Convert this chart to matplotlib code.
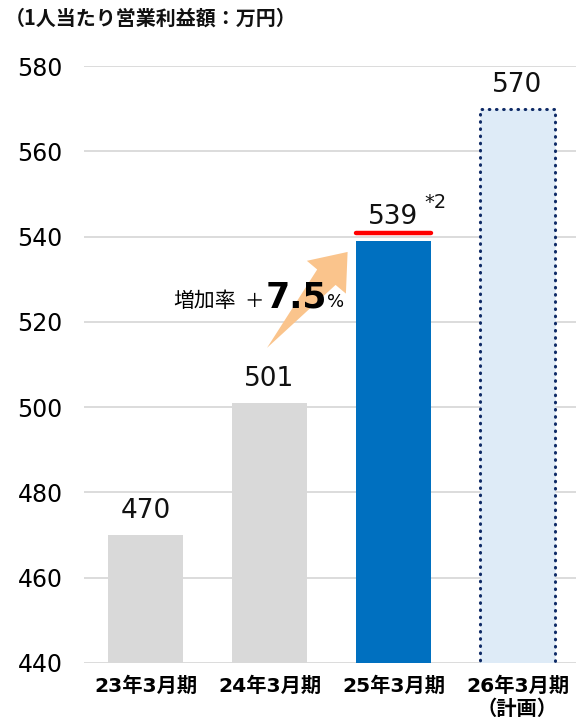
import numpy as np
import matplotlib.pyplot as plt
import matplotlib.transforms as mtransforms
from matplotlib.patches import Polygon

plt.rcParams['font.family'] = ['DejaVu Sans', 'Noto Sans CJK JP']
cjk = ['Noto Sans CJK JP', 'DejaVu Sans']

periods = ['23年3月期', '24年3月期', '25年3月期', '26年3月期\n（計画）']
profitPerHead = [470, 501, 539, 570]   # 万円
barColors = ['#D9D9D9', '#D9D9D9', '#0070C0', '#DEEBF7']
yTicks = [440, 460, 480, 500, 520, 540, 560, 580]

fig = plt.figure(figsize=(5.76, 7.28), dpi=100)
ax = fig.add_axes([0.145, 0.0893, 0.861, 0.82])
ax.set_ylim(440, 580)
ax.set_xlim(-0.5, 3.5)

xs = range(len(periods))
bars = ax.bar(xs, profitPerHead, width=0.6, color=barColors, zorder=2)

# plan year: dotted outline
bars[3].set_edgecolor('#0E2A66')
bars[3].set_linestyle((0, (0.2, 2.15)))
bars[3].set_linewidth(2.2)
bars[3].set_capstyle('round')

for x, v in zip(xs, profitPerHead):
    ax.annotate(str(v), (x, v), xytext=(0, 12), textcoords='offset points',
                ha='center', va='baseline', fontsize=19, color='#111111', zorder=5)

# red underline under the current year value
lineTrans = mtransforms.offset_copy(ax.transData, fig=fig, y=5.5, units='points')
ax.plot([1.7, 2.3], [profitPerHead[2]] * 2, color='#FF0000', lw=3.2,
        solid_capstyle='round', transform=lineTrans, zorder=4)
ax.annotate('*2', (2, profitPerHead[2]), xytext=(22, 24), textcoords='offset points',
            ha='left', va='baseline', fontsize=14, color='#111111')

# growth arrow from 24年 to 25年: tapered tail, triangular head (sizes in pixels)
def taperedArrow(tail, tip, headLen=33, headWidth=51, shaftWidth=24):
    t = ax.transData.transform(tail)
    p = ax.transData.transform(tip)
    u = (p - t) / np.hypot(*(p - t))
    n = np.array([-u[1], u[0]])
    b = p - u * headLen
    pts = [t, b - n * shaftWidth / 2, b - n * headWidth / 2, p,
           b + n * headWidth / 2, b + n * shaftWidth / 2]
    return Polygon(ax.transData.inverted().transform(pts), closed=True,
                   facecolor='#FAC48C', edgecolor='none', zorder=3)

ax.add_patch(taperedArrow((0.98, 513.9), (1.63, 536.4)))

growthY = 523.4
ax.text(0.222, growthY, '増加率', fontsize=15, family=cjk, va='baseline', ha='left', zorder=6)
ax.text(0.875, growthY, '＋', fontsize=14, family=cjk, va='baseline', ha='center', zorder=6)
ax.text(0.965, growthY, '7.5', fontsize=25, fontweight='bold',
        va='baseline', ha='left', zorder=6)
ax.text(1.462, growthY, '%', fontsize=13, va='baseline', ha='left', zorder=6)

ax.set_yticks(yTicks)
ax.set_xticks(list(xs))
ax.set_xticklabels(periods, fontsize=14.6, fontweight='bold')
ax.tick_params(axis='y', length=0, pad=15, labelsize=17)
ax.tick_params(axis='x', length=0, pad=10)
ax.grid(axis='y', color='#D9D9D9', lw=1.3, zorder=0)
for s in ax.spines.values():
    s.set_visible(False)

fig.text(0.008, 0.975, '（1人当たり営業利益額：万円）', fontsize=14.4, family=cjk,
         fontweight='bold', va='center', ha='left', color='#111111')

fig.savefig('out.png', dpi=100)
